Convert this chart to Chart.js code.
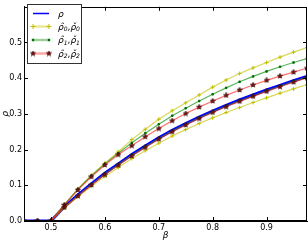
<!DOCTYPE html>
<html>
<head>
<meta charset="utf-8">
<script src="https://cdn.jsdelivr.net/npm/chart.js@4/dist/chart.umd.min.js"></script>
<style>
    html, body { margin: 0; padding: 0; background: #fff; }
</style>
</head>
<body>
<canvas id="chart" width="308" height="241"></canvas>
<script>
var beta = [0.45, 0.475, 0.5, 0.525, 0.55, 0.575, 0.6, 0.625, 0.65, 0.675, 0.7,
    0.725, 0.75, 0.775, 0.8, 0.825, 0.85, 0.875, 0.9, 0.925, 0.95, 0.975];
var rho = [0, 0, 0, 0.040, 0.073, 0.104, 0.134, 0.160, 0.186, 0.210, 0.233,
    0.254, 0.273, 0.291, 0.308, 0.324, 0.339, 0.353, 0.367, 0.380, 0.393, 0.405];
var rhoHat0 = [0, 0, 0, 0.046, 0.090, 0.128, 0.162, 0.194, 0.228, 0.257, 0.285,
    0.309, 0.331, 0.353, 0.375, 0.395, 0.413, 0.429, 0.444, 0.459, 0.473, 0.486];
var rhoCheck0 = [0, 0, 0, 0.037, 0.068, 0.097, 0.125, 0.150, 0.175, 0.197, 0.218,
    0.238, 0.256, 0.273, 0.289, 0.304, 0.318, 0.332, 0.345, 0.358, 0.370, 0.382];
var rhoHat1 = [0, 0, 0, 0.046, 0.089, 0.127, 0.160, 0.190, 0.219, 0.246, 0.271,
    0.295, 0.316, 0.336, 0.355, 0.373, 0.390, 0.405, 0.419, 0.432, 0.444, 0.455];
var rhoCheck1 = [0, 0, 0, 0.038, 0.071, 0.102, 0.132, 0.158, 0.184, 0.208, 0.231,
    0.252, 0.271, 0.289, 0.306, 0.322, 0.337, 0.351, 0.365, 0.378, 0.391, 0.403];
var rhoHat2 = [0, 0, 0, 0.045, 0.087, 0.124, 0.157, 0.186, 0.211, 0.236, 0.259,
    0.281, 0.301, 0.319, 0.336, 0.352, 0.367, 0.381, 0.394, 0.406, 0.417, 0.428];
var rhoCheck2 = [0, 0, 0, 0.038, 0.070, 0.101, 0.130, 0.156, 0.182, 0.206, 0.229,
    0.250, 0.269, 0.287, 0.304, 0.320, 0.335, 0.349, 0.363, 0.376, 0.389, 0.401];
var xTicks = [0.5, 0.6, 0.7, 0.8, 0.9];
var yTicks = [0.0, 0.1, 0.2, 0.3, 0.4, 0.5];

var FONT = '"DejaVu Sans", sans-serif';

// filled five point star, like matplotlib's '*'
function makeStar(size, fill, edge) {
    var c = document.createElement('canvas');
    c.width = size;
    c.height = size;
    var g = c.getContext('2d');
    var r = size / 2 - 0.3, r2 = r * 0.45, cx = size / 2, cy = size / 2;
    g.beginPath();
    for (var i = 0; i < 10; i++) {
        var a = -Math.PI / 2 + i * Math.PI / 5;
        var rr = i % 2 === 0 ? r : r2;
        g.lineTo(cx + rr * Math.cos(a), cy + rr * Math.sin(a));
    }
    g.closePath();
    g.fillStyle = fill;
    g.fill();
    g.strokeStyle = edge;
    g.lineWidth = 0.6;
    g.stroke();
    return c;
}
var star = makeStar(6, '#7a1515', '#300000');

function pts(vals) {
    return beta.map(function (b, i) { return {x: b, y: vals[i]}; });
}

var styles = {
    yellow: {line: 'rgba(200,200,20,0.7)', marker: '#c0c000'},
    green: {line: 'rgba(20,150,20,0.7)', marker: '#007000'},
    red: {line: 'rgba(255,30,30,0.65)', marker: '#7a1515'}
};

function series(vals, st, pointStyle, radius, order) {
    return {
        data: pts(vals),
        showLine: true,
        borderColor: st.line,
        borderWidth: 1.2,
        pointStyle: pointStyle,
        pointRadius: radius,
        pointBorderColor: st.marker,
        pointBackgroundColor: st.marker,
        pointBorderWidth: 1,
        order: order
    };
}

var datasets = [
    {
        data: pts(rho), showLine: true, borderColor: '#0000ff', borderWidth: 3,
        pointRadius: 0, order: 9
    },
    series(rhoHat0, styles.yellow, 'cross', 2, 8),
    series(rhoCheck0, styles.yellow, 'cross', 2, 7),
    series(rhoHat1, styles.green, 'rect', 1.1, 6),
    series(rhoCheck1, styles.green, 'rect', 1.1, 5),
    series(rhoHat2, styles.red, star, 3, 4),
    series(rhoCheck2, styles.red, star, 3, 3)
];

function drawSub(ctx, x, y, base, sub) {
    ctx.font = 'italic 9px ' + FONT;
    ctx.fillText(base, x, y);
    x += ctx.measureText(base).width;
    ctx.font = 'italic 6px ' + FONT;
    ctx.fillText(sub, x, y + 2);
    return x + ctx.measureText(sub).width;
}

var framePlugin = {
    id: 'frame',
    afterDraw: function (chart) {
        var ctx = chart.ctx, a = chart.chartArea;
        var xs = chart.scales.x, ys = chart.scales.y;
        ctx.save();
        ctx.strokeStyle = '#000';
        ctx.lineWidth = 1;
        ctx.beginPath();
        xTicks.forEach(function (v) {
            var px = Math.round(xs.getPixelForValue(v)) + 0.5;
            ctx.moveTo(px, a.bottom); ctx.lineTo(px, a.bottom - 4);
            ctx.moveTo(px, a.top); ctx.lineTo(px, a.top + 4);
        });
        yTicks.forEach(function (v) {
            var py = Math.round(ys.getPixelForValue(v)) + 0.5;
            ctx.moveTo(a.left, py); ctx.lineTo(a.left + 4, py);
            ctx.moveTo(a.right, py); ctx.lineTo(a.right - 4, py);
        });
        ctx.stroke();
        ctx.strokeRect(Math.round(a.left) + 0.5, Math.round(a.top) + 0.5,
            Math.round(a.right - a.left) - 1, Math.round(a.bottom - a.top) - 1);

        // legend
        var bx = 27.5, by = 4.5, bw = 54, bh = 59;
        ctx.fillStyle = '#fff';
        ctx.fillRect(bx, by, bw, bh);
        ctx.strokeStyle = '#333';
        ctx.strokeRect(bx, by, bw, bh);
        var rows = [13.5, 26.5, 40, 53.5];
        var x0 = 33, x1 = 49;
        ctx.lineWidth = 1.5;
        ctx.strokeStyle = '#0000ff';
        ctx.beginPath(); ctx.moveTo(x0, rows[0]); ctx.lineTo(x1, rows[0]); ctx.stroke();
        [styles.yellow, styles.green, styles.red].forEach(function (st, i) {
            var y = rows[i + 1];
            ctx.lineWidth = 2.5;
            ctx.strokeStyle = st.line;
            ctx.globalAlpha = 0.6;
            ctx.beginPath(); ctx.moveTo(x0, y); ctx.lineTo(x1, y); ctx.stroke();
            ctx.globalAlpha = 1;
            [x0, x1].forEach(function (mx) {
                if (i === 0) {
                    ctx.lineWidth = 1;
                    ctx.strokeStyle = st.marker;
                    ctx.beginPath();
                    ctx.moveTo(mx - 2.5, y); ctx.lineTo(mx + 2.5, y);
                    ctx.moveTo(mx, y - 2.5); ctx.lineTo(mx, y + 2.5);
                    ctx.stroke();
                } else if (i === 1) {
                    ctx.fillStyle = st.marker;
                    ctx.fillRect(mx - 1.2, y - 1.2, 2.4, 2.4);
                } else {
                    ctx.drawImage(star, mx - 3, y - 3);
                }
            });
        });
        ctx.fillStyle = '#000';
        ctx.textBaseline = 'middle';
        ctx.textAlign = 'left';
        ctx.font = 'italic 9px ' + FONT;
        ctx.fillText('\u03c1', 58, rows[0] + 1);
        ['0', '1', '2'].forEach(function (n, i) {
            var y = rows[i + 1] + 1;
            var x = drawSub(ctx, 58, y, '\u03c1\u0302', n);
            ctx.font = '9px ' + FONT;
            ctx.fillText(',', x, y);
            x += ctx.measureText(',').width;
            drawSub(ctx, x, y, '\u03c1\u030c', n);
        });
        ctx.restore();
    }
};

var ctx = document.getElementById('chart').getContext('2d');
var chart = new Chart(ctx, {
    type: 'scatter',
    data: {datasets: datasets},
    options: {
        responsive: false,
        animation: false,
        layout: {autoPadding: false, padding: {top: 0, right: 1, left: 0, bottom: 0}},
        plugins: {legend: {display: false}, tooltip: {enabled: false}},
        scales: {
            x: {
                type: 'linear', min: 0.45, max: 0.975,
                afterBuildTicks: function (s) { s.ticks = xTicks.map(function (v) { return {value: v}; }); },
                afterFit: function (s) { s.height = 20; },
                grid: {display: false, drawTicks: false},
                border: {color: '#000'},
                ticks: {
                    color: '#000', padding: 2, font: {family: FONT, size: 8},
                    callback: function (v) { return v.toFixed(1); }
                },
                title: {display: true, text: '\u03b2', color: '#000', padding: 0,
                    font: {family: FONT, size: 9, style: 'italic'}}
            },
            y: {
                type: 'linear', min: 0, max: 0.6,
                afterBuildTicks: function (s) { s.ticks = yTicks.map(function (v) { return {value: v}; }); },
                afterFit: function (s) { s.width = 24; },
                grid: {display: false, drawTicks: false},
                border: {color: '#000'},
                ticks: {
                    color: '#000', padding: 2, font: {family: FONT, size: 8},
                    callback: function (v) { return v.toFixed(1); }
                },
                title: {display: true, text: '\u03c1', color: '#000', padding: 0,
                    font: {family: FONT, size: 9, style: 'italic'}}
            }
        }
    },
    plugins: [framePlugin]
});
</script>
</body>
</html>
